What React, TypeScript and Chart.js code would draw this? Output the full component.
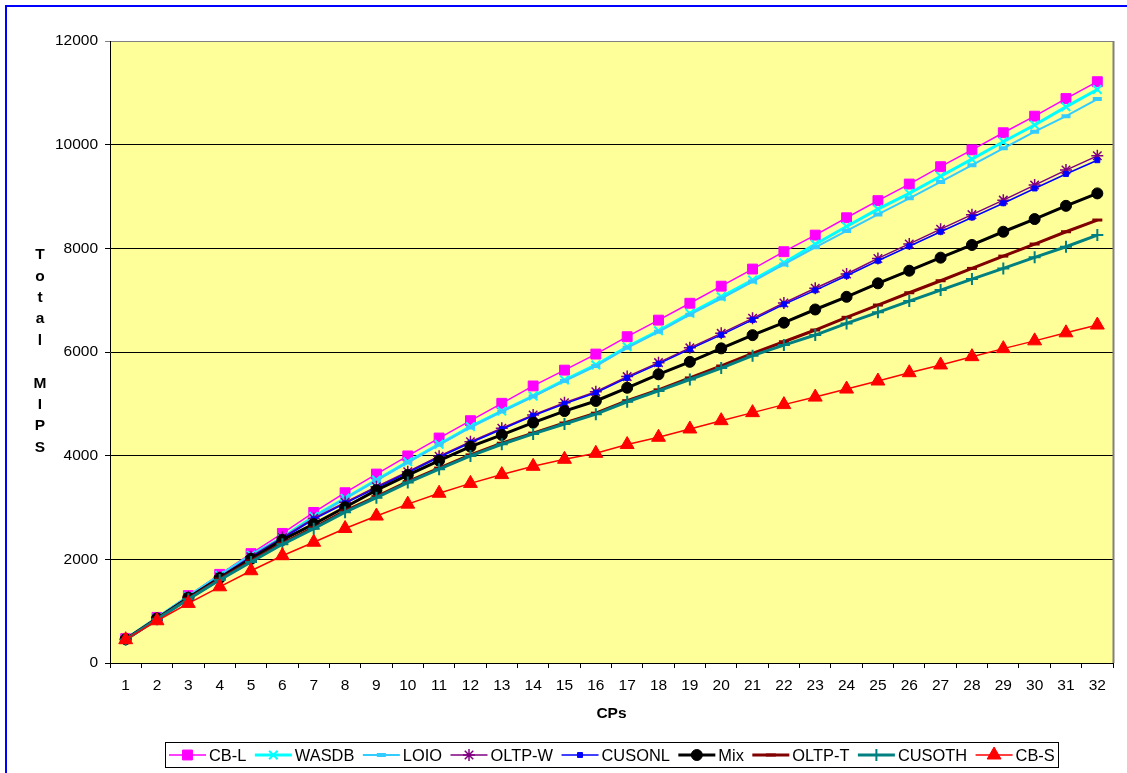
import React, { useEffect, useRef } from 'react';
import { Chart, registerables } from 'chart.js';
import { drawPoint } from 'chart.js/helpers';

Chart.register(...registerables);

const categories = ['1','2','3','4','5','6','7','8','9','10','11','12','13','14','15','16','17','18','19','20','21','22','23','24','25','26','27','28','29','30','31','32'];

const cbL = [470, 880, 1300, 1710, 2110, 2500, 2905, 3285, 3645, 3995, 4340, 4675, 5010, 5345, 5650, 5960, 6295, 6615, 6940, 7270, 7600, 7935, 8255, 8590, 8920, 9240, 9575, 9900, 10230, 10550, 10890, 11215];
const wasdb = [465, 875, 1285, 1690, 2080, 2420, 2825, 3180, 3530, 3880, 4220, 4560, 4860, 5150, 5460, 5750, 6100, 6410, 6745, 7065, 7390, 7720, 8080, 8420, 8755, 9060, 9390, 9720, 10057, 10380, 10730, 11065];
const loio = [460, 870, 1280, 1680, 2070, 2420, 2810, 3170, 3520, 3870, 4210, 4545, 4850, 5140, 5440, 5730, 6080, 6390, 6720, 7030, 7360, 7690, 8020, 8335, 8655, 8965, 9280, 9605, 9930, 10250, 10550, 10880];
const oltpW = [460, 870, 1270, 1660, 2050, 2420, 2790, 3100, 3400, 3690, 3990, 4270, 4530, 4785, 5020, 5235, 5525, 5795, 6080, 6360, 6650, 6945, 7230, 7505, 7805, 8085, 8370, 8650, 8930, 9220, 9510, 9785];
const cusonl = [460, 865, 1265, 1650, 2040, 2400, 2770, 3080, 3380, 3670, 3970, 4250, 4510, 4770, 5000, 5215, 5500, 5770, 6055, 6330, 6620, 6920, 7190, 7470, 7760, 8040, 8320, 8595, 8870, 9155, 9435, 9700];
const mix = [460, 860, 1260, 1640, 2010, 2375, 2680, 3005, 3335, 3625, 3905, 4175, 4400, 4636, 4860, 5055, 5310, 5570, 5810, 6070, 6325, 6565, 6820, 7065, 7325, 7568, 7820, 8065, 8320, 8565, 8820, 9060];
const oltpT = [455, 850, 1240, 1620, 1970, 2310, 2610, 2935, 3210, 3500, 3760, 4015, 4240, 4435, 4630, 4820, 5060, 5270, 5500, 5730, 5975, 6198, 6424, 6669, 6906, 7143, 7375, 7613, 7850, 8083, 8320, 8546];
const cusoth = [450, 845, 1230, 1600, 1950, 2290, 2590, 2910, 3190, 3480, 3740, 3995, 4220, 4420, 4610, 4800, 5040, 5250, 5470, 5690, 5930, 6134, 6327, 6552, 6765, 6983, 7195, 7407, 7613, 7826, 8031, 8256];
const cbS = [450, 815, 1150, 1470, 1780, 2070, 2330, 2595, 2835, 3065, 3275, 3465, 3635, 3795, 3930, 4045, 4215, 4355, 4515, 4675, 4830, 4985, 5130, 5285, 5440, 5600, 5750, 5910, 6065, 6215, 6370, 6520];

const seriesNames = ['CB-L', 'WASDB', 'LOIO', 'OLTP-W', 'CUSONL', 'Mix', 'OLTP-T', 'CUSOTH', 'CB-S'];
const seriesValues = [cbL, wasdb, loio, oltpW, cusonl, mix, oltpT, cusoth, cbS];

const yMin = 0;
const yMax = 12000;
const yStep = 2000;
const yTitleLetters = ['T', 'o', 't', 'a', 'l', '', 'M', 'I', 'P', 'S'];
const xTitle = 'CPs';

const FONT = "'Liberation Sans', Arial, sans-serif";

const styles = [
  { color: '#FF00FF', width: 1.5, pointStyle: 'rect', radius: 7, pbw: 1, fill: true },
  { color: '#00FFFF', width: 3, pointStyle: 'crossRot', radius: 6, pbw: 2, fill: false },
  { color: '#33CCFF', width: 2, pointStyle: 'line', radius: 4.5, pbw: 4, fill: false },
  { color: '#800080', width: 1.5, pointStyle: 'star', radius: 6, pbw: 1.5, fill: false },
  { color: '#0000FF', width: 1.5, pointStyle: 'rect', radius: 3.5, pbw: 1, fill: true },
  { color: '#000000', width: 3, pointStyle: 'circle', radius: 5.5, pbw: 1, fill: true },
  { color: '#800000', width: 3, pointStyle: 'line', radius: 5, pbw: 3, fill: false },
  { color: '#008080', width: 3, pointStyle: 'cross', radius: 6, pbw: 2, fill: false },
  { color: '#FF0000', width: 1.5, pointStyle: 'triangle', radius: 8, pbw: 1, fill: true },
];

const decorPlugin = {
  id: 'decor',
  beforeDraw(chart: any) {
    const { ctx, chartArea } = chart;
    ctx.save();
    ctx.fillStyle = '#FFFFFF';
    ctx.fillRect(0, 0, chart.width, chart.height);
    ctx.fillStyle = '#FFFF99';
    ctx.fillRect(chartArea.left, chartArea.top, chartArea.right - chartArea.left, chartArea.bottom - chartArea.top);
    ctx.restore();
  },
  afterDraw(chart: any) {
    const { ctx, chartArea } = chart;
    ctx.save();
    // right plot border
    ctx.strokeStyle = '#808080';
    ctx.lineWidth = 2;
    ctx.beginPath();
    ctx.moveTo(Math.round(chartArea.right) + 0.5, chartArea.top);
    ctx.lineTo(Math.round(chartArea.right) + 0.5, chartArea.bottom);
    ctx.stroke();

    // y title (stacked letters)
    ctx.fillStyle = '#000';
    ctx.font = `bold 15.5px ${FONT}`;
    ctx.textAlign = 'center';
    ctx.textBaseline = 'middle';
    yTitleLetters.forEach((ch, i) => {
      if (ch) ctx.fillText(ch, 40, 255 + i * 21.4);
    });

    // x title
    ctx.font = `bold 15.5px ${FONT}`;
    ctx.fillText(xTitle, (chartArea.left + chartArea.right) / 2, 714);

    // legend
    const lx0 = 165, ly0 = 742.5, lw = 893, lh = 25;
    ctx.strokeStyle = '#000';
    ctx.lineWidth = 1;
    ctx.strokeRect(lx0 + 0.5, ly0, lw, lh);
    ctx.font = `16.4px ${FONT}`;
    ctx.textAlign = 'left';
    ctx.textBaseline = 'middle';
    const cy = ly0 + lh / 2;
    let x = 169;
    seriesNames.forEach((name, i) => {
      const s = styles[i];
      ctx.strokeStyle = s.color;
      ctx.fillStyle = s.color;
      ctx.lineWidth = s.width;
      ctx.beginPath();
      ctx.moveTo(x, cy);
      ctx.lineTo(x + 37, cy);
      ctx.stroke();
      ctx.lineWidth = s.pbw;
      drawPoint(ctx, { pointStyle: s.pointStyle, radius: s.radius, borderWidth: s.pbw, rotation: 0 } as any, x + 18.5, cy);
      ctx.fillStyle = '#000';
      ctx.fillText(name, x + 40, cy + 1);
      x += 40 + ctx.measureText(name).width + 8.5;
    });

    // outer blue frame
    ctx.strokeStyle = '#0000FF';
    ctx.lineWidth = 2;
    ctx.strokeRect(6, 6, 1140, 800);
    ctx.restore();
  },
};

export default function App() {
  const canvasRef = useRef<HTMLCanvasElement | null>(null);

  useEffect(() => {
    const canvas = canvasRef.current;
    if (!canvas) return;
    const datasets = seriesNames.map((name, i) => {
      const s = styles[i];
      return {
        label: name,
        data: seriesValues[i],
        borderColor: s.color,
        backgroundColor: s.fill ? s.color : 'rgba(0,0,0,0)',
        borderWidth: s.width,
        pointStyle: s.pointStyle,
        pointRadius: s.radius,
        pointBorderWidth: s.pbw,
        pointBorderColor: s.color,
        pointBackgroundColor: s.color,
        tension: 0,
        fill: false,
        order: seriesNames.length - i,
      };
    });
    const chart = new Chart(canvas, {
      type: 'line',
      data: { labels: categories, datasets },
      options: {
        responsive: false,
        animation: false,
        devicePixelRatio: 1,
        layout: { padding: { left: 0, top: 41, right: 14, bottom: 0 } },
        plugins: {
          legend: { display: false },
          tooltip: { enabled: false },
          title: { display: false },
        },
        scales: {
          x: {
            type: 'category',
            offset: true,
            afterFit: (s: any) => { s.height = 110; },
            grid: { offset: true, drawOnChartArea: false, drawTicks: true, tickLength: 5, color: '#000' },
            border: { display: true, color: '#000', width: 1 },
            ticks: { color: '#000', font: { family: FONT, size: 15.5 }, padding: 8, maxRotation: 0, autoSkip: false },
          },
          y: {
            min: yMin,
            max: yMax,
            afterFit: (s: any) => { s.width = 110; },
            grid: {
              drawTicks: true,
              tickLength: 5,
              color: (c: any) => (c.tick && c.tick.value === yMax ? '#808080' : '#000'),
            },
            border: { display: true, color: '#000', width: 1 },
            ticks: {
              stepSize: yStep,
              color: '#000',
              font: { family: FONT, size: 15.5 },
              padding: 7,
              callback: (v: any) => String(v),
            },
          },
        },
      },
      plugins: [decorPlugin],
    } as any);
    return () => chart.destroy();
  }, []);

  return (
    <div style={{ position: 'fixed', left: 0, top: 0, width: 1127, height: 773, background: '#fff' }}>
      <canvas ref={canvasRef} width={1127} height={773} style={{ display: 'block' }} />
    </div>
  );
}
